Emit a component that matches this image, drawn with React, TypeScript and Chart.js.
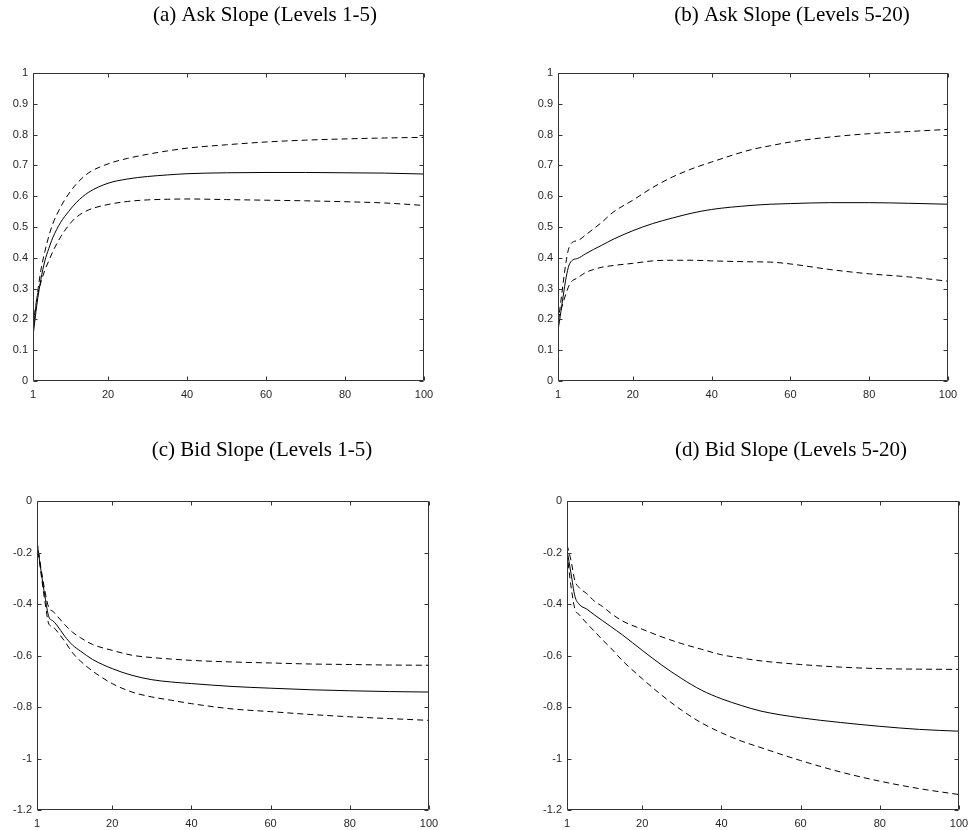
import React, { useEffect, useRef } from "react";
import { Chart, registerables } from "chart.js";

Chart.register(...registerables);

// ---------- data ----------
const horizonsAskL1 = [1, 2, 3, 4, 5, 6, 8, 10, 12, 15, 20, 25, 30, 35, 40, 50, 60, 70, 80, 90, 100];
const askL1Mean = [0.145, 0.25, 0.33, 0.39, 0.43, 0.465, 0.515, 0.55, 0.58, 0.612, 0.642, 0.656, 0.664, 0.669, 0.673, 0.676, 0.677, 0.677, 0.676, 0.675, 0.672];
const askL1Upper = [0.16, 0.27, 0.36, 0.42, 0.47, 0.51, 0.565, 0.607, 0.64, 0.675, 0.705, 0.723, 0.736, 0.747, 0.756, 0.767, 0.776, 0.782, 0.786, 0.789, 0.791];
const askL1Lower = [0.18, 0.27, 0.32, 0.36, 0.39, 0.42, 0.468, 0.505, 0.532, 0.555, 0.573, 0.583, 0.588, 0.59, 0.591, 0.589, 0.587, 0.585, 0.582, 0.578, 0.57];

const horizonsAskL5 = [1, 4, 6, 8, 10, 12, 15, 20, 25, 30, 35, 40, 50, 55, 60, 70, 80, 90, 100];
const askL5Mean = [0.165, 0.382, 0.398, 0.413, 0.427, 0.44, 0.46, 0.488, 0.511, 0.529, 0.545, 0.557, 0.57, 0.574, 0.576, 0.579, 0.579, 0.577, 0.574];
const askL5Upper = [0.19, 0.44, 0.456, 0.474, 0.494, 0.514, 0.548, 0.587, 0.628, 0.662, 0.689, 0.711, 0.751, 0.764, 0.776, 0.792, 0.803, 0.81, 0.817];
const askL5Lower = [0.2, 0.315, 0.335, 0.352, 0.362, 0.369, 0.375, 0.382, 0.39, 0.392, 0.392, 0.39, 0.387, 0.386, 0.38, 0.362, 0.348, 0.338, 0.324];

const horizonsBidL1 = [1, 2, 3, 4, 5, 6, 8, 10, 12, 15, 20, 25, 30, 35, 40, 50, 60, 70, 80, 90, 100];
const bidL1Mean = [-0.158, -0.27, -0.37, -0.45, -0.465, -0.482, -0.525, -0.56, -0.583, -0.615, -0.651, -0.677, -0.694, -0.703, -0.709, -0.72, -0.727, -0.733, -0.737, -0.74, -0.742];
const bidL1Upper = [-0.158, -0.26, -0.35, -0.415, -0.428, -0.445, -0.48, -0.51, -0.531, -0.557, -0.58, -0.599, -0.608, -0.614, -0.619, -0.625, -0.629, -0.633, -0.635, -0.637, -0.638];
const bidL1Lower = [-0.158, -0.28, -0.39, -0.478, -0.488, -0.505, -0.545, -0.59, -0.622, -0.66, -0.709, -0.742, -0.761, -0.774, -0.787, -0.807, -0.818, -0.829, -0.838, -0.845, -0.852];

const horizonsBidL5 = [1, 2, 3, 4, 6, 8, 10, 12, 15, 20, 25, 30, 35, 40, 45, 50, 60, 70, 80, 90, 100];
const bidL5Mean = [-0.19, -0.28, -0.37, -0.4, -0.42, -0.443, -0.465, -0.487, -0.52, -0.58, -0.638, -0.69, -0.735, -0.768, -0.794, -0.816, -0.842, -0.86, -0.875, -0.887, -0.894];
const bidL5Upper = [-0.17, -0.23, -0.31, -0.335, -0.36, -0.39, -0.41, -0.435, -0.466, -0.498, -0.528, -0.554, -0.576, -0.597, -0.61, -0.621, -0.635, -0.645, -0.651, -0.653, -0.654];
const bidL5Lower = [-0.2, -0.33, -0.42, -0.44, -0.475, -0.507, -0.54, -0.57, -0.62, -0.69, -0.755, -0.813, -0.862, -0.9, -0.932, -0.958, -1.008, -1.052, -1.088, -1.117, -1.14];

const xTickValues = [1, 20, 40, 60, 80, 100];
const xTickLabels = ["1", "20", "40", "60", "80", "100"];
const askTickValues = [0, 0.1, 0.2, 0.3, 0.4, 0.5, 0.6, 0.7, 0.8, 0.9, 1];
const askTickLabels = ["0", "0.1", "0.2", "0.3", "0.4", "0.5", "0.6", "0.7", "0.8", "0.9", "1"];
const bidTickValues = [-1.2, -1, -0.8, -0.6, -0.4, -0.2, 0];
const bidTickLabels = ["-1.2", "-1", "-0.8", "-0.6", "-0.4", "-0.2", "0"];

const panelTitles = [
  "(a) Ask Slope (Levels 1-5)",
  "(b) Ask Slope (Levels 5-20)",
  "(c) Bid Slope (Levels 1-5)",
  "(d) Bid Slope (Levels 5-20)",
];

// ---------- layout / style ----------
const AXIS_COLOR = "#333333";
const LABEL_COLOR = "#262626";
const TICK_FONT = { family: "'Liberation Sans', Arial, sans-serif", size: 11 };
const TITLE_FONT = "21px 'Liberation Serif', 'Times New Roman', serif";

type PanelCfg = {
  title: string;
  xs: number[];
  mean: number[];
  upper: number[];
  lower: number[];
  yTicks: number[];
  yLabels: string[];
  canvas: { left: number; top: number; w: number; h: number };
  area: { l: number; t: number; r: number; b: number }; // page coords
  titlePos: { x: number; y: number }; // page coords
};

const panels: PanelCfg[] = [
  {
    title: panelTitles[0], xs: horizonsAskL1, mean: askL1Mean, upper: askL1Upper, lower: askL1Lower,
    yTicks: askTickValues, yLabels: askTickLabels,
    canvas: { left: 0, top: 0, w: 484, h: 410 }, area: { l: 33, t: 73, r: 424, b: 381 }, titlePos: { x: 265, y: 15 },
  },
  {
    title: panelTitles[1], xs: horizonsAskL5, mean: askL5Mean, upper: askL5Upper, lower: askL5Lower,
    yTicks: askTickValues, yLabels: askTickLabels,
    canvas: { left: 484, top: 0, w: 485, h: 410 }, area: { l: 558, t: 73, r: 948, b: 381 }, titlePos: { x: 792, y: 15 },
  },
  {
    title: panelTitles[2], xs: horizonsBidL1, mean: bidL1Mean, upper: bidL1Upper, lower: bidL1Lower,
    yTicks: bidTickValues, yLabels: bidTickLabels,
    canvas: { left: 0, top: 410, w: 484, h: 420 }, area: { l: 37, t: 501, r: 429, b: 810 }, titlePos: { x: 262, y: 450 },
  },
  {
    title: panelTitles[3], xs: horizonsBidL5, mean: bidL5Mean, upper: bidL5Upper, lower: bidL5Lower,
    yTicks: bidTickValues, yLabels: bidTickLabels,
    canvas: { left: 484, top: 410, w: 485, h: 420 }, area: { l: 567, t: 501, r: 959, b: 810 }, titlePos: { x: 791, y: 450 },
  },
];

const boxPlugin = {
  id: "matlabBox",
  afterDatasetsDraw(chart: any) {
    const { ctx, chartArea, scales } = chart;
    const l = Math.round(chartArea.left) + 0.5;
    const r = Math.round(chartArea.right) - 0.5;
    const t = Math.round(chartArea.top) + 0.5;
    const b = Math.round(chartArea.bottom) - 0.5;
    ctx.save();
    ctx.strokeStyle = AXIS_COLOR;
    ctx.lineWidth = 1;
    ctx.beginPath();
    ctx.rect(l, t, r - l, b - t);
    ctx.stroke();
    const tl = 4;
    ctx.beginPath();
    for (const tk of scales.x.ticks) {
      const px = Math.round(scales.x.getPixelForValue(tk.value)) + 0.5;
      ctx.moveTo(px, b);
      ctx.lineTo(px, b - tl);
      ctx.moveTo(px, t);
      ctx.lineTo(px, t + tl);
    }
    for (const tk of scales.y.ticks) {
      const py = Math.round(scales.y.getPixelForValue(tk.value)) + 0.5;
      ctx.moveTo(l, py);
      ctx.lineTo(l + tl, py);
      ctx.moveTo(r, py);
      ctx.lineTo(r - tl, py);
    }
    ctx.stroke();
    ctx.restore();
  },
};

const titlePlugin = {
  id: "panelTitle",
  afterDraw(chart: any, _args: any, opts: any) {
    const { ctx } = chart;
    ctx.save();
    ctx.font = TITLE_FONT;
    ctx.fillStyle = "#000";
    ctx.textAlign = "center";
    ctx.textBaseline = "middle";
    ctx.fillText(opts.text, opts.x, opts.y);
    ctx.restore();
  },
};

function Panel({ cfg }: { cfg: PanelCfg }) {
  const ref = useRef<HTMLCanvasElement>(null);
  useEffect(() => {
    const c = cfg.canvas;
    const yAxisW = cfg.area.l - c.left;
    const padTop = cfg.area.t - c.top;
    const padRight = c.left + c.w - cfg.area.r;
    const xAxisH = c.top + c.h - cfg.area.b;
    const mk = (vals: number[]) => cfg.xs.map((x, i) => ({ x, y: vals[i] }));
    const lineBase = {
      borderColor: "#000000",
      borderWidth: 1,
      pointRadius: 0,
      fill: false,
      cubicInterpolationMode: "monotone" as const,
    };
    const chart = new Chart(ref.current!, {
      type: "line",
      data: {
        datasets: [
          { ...lineBase, data: mk(cfg.mean) },
          { ...lineBase, data: mk(cfg.upper), borderDash: [6, 4] },
          { ...lineBase, data: mk(cfg.lower), borderDash: [6, 4] },
        ],
      },
      options: {
        animation: false,
        responsive: false,
        maintainAspectRatio: false,
        events: [],
        layout: { padding: { left: 0, top: padTop, right: padRight, bottom: 0 } },
        plugins: {
          legend: { display: false },
          tooltip: { enabled: false },
          title: { display: false },
          panelTitle: { text: cfg.title, x: cfg.titlePos.x - c.left, y: cfg.titlePos.y - c.top },
        } as any,
        scales: {
          x: {
            type: "linear",
            min: 1,
            max: 100,
            grid: { display: false, drawTicks: false },
            border: { display: false },
            afterBuildTicks: (s: any) => {
              s.ticks = xTickValues.map((v) => ({ value: v }));
            },
            afterFit: (s: any) => {
              s.height = xAxisH;
              s.paddingLeft = 0;
              s.paddingRight = 0;
            },
            ticks: {
              padding: 7,
              color: LABEL_COLOR,
              font: TICK_FONT,
              maxRotation: 0,
              autoSkip: false,
              callback: (_v: any, i: number) => xTickLabels[i],
            },
          },
          y: {
            type: "linear",
            min: cfg.yTicks[0],
            max: cfg.yTicks[cfg.yTicks.length - 1],
            grid: { display: false, drawTicks: false },
            border: { display: false },
            afterBuildTicks: (s: any) => {
              s.ticks = cfg.yTicks.map((v) => ({ value: v }));
            },
            afterFit: (s: any) => {
              s.width = yAxisW;
              s.paddingTop = 0;
              s.paddingBottom = 0;
            },
            ticks: {
              padding: 5,
              color: LABEL_COLOR,
              font: TICK_FONT,
              autoSkip: false,
              callback: (_v: any, i: number) => cfg.yLabels[i],
            },
          },
        },
      },
      plugins: [boxPlugin, titlePlugin],
    });
    return () => chart.destroy();
  }, [cfg]);
  const c = cfg.canvas;
  return (
    <div style={{ position: "absolute", left: c.left, top: c.top, width: c.w, height: c.h }}>
      <canvas ref={ref} width={c.w} height={c.h} style={{ width: c.w, height: c.h, display: "block" }} />
    </div>
  );
}

export default function App() {
  return (
    <div style={{ position: "absolute", left: 0, top: 0, width: 969, height: 830, background: "#fff", overflow: "hidden" }}>
      {panels.map((p) => (
        <Panel key={p.title} cfg={p} />
      ))}
    </div>
  );
}
